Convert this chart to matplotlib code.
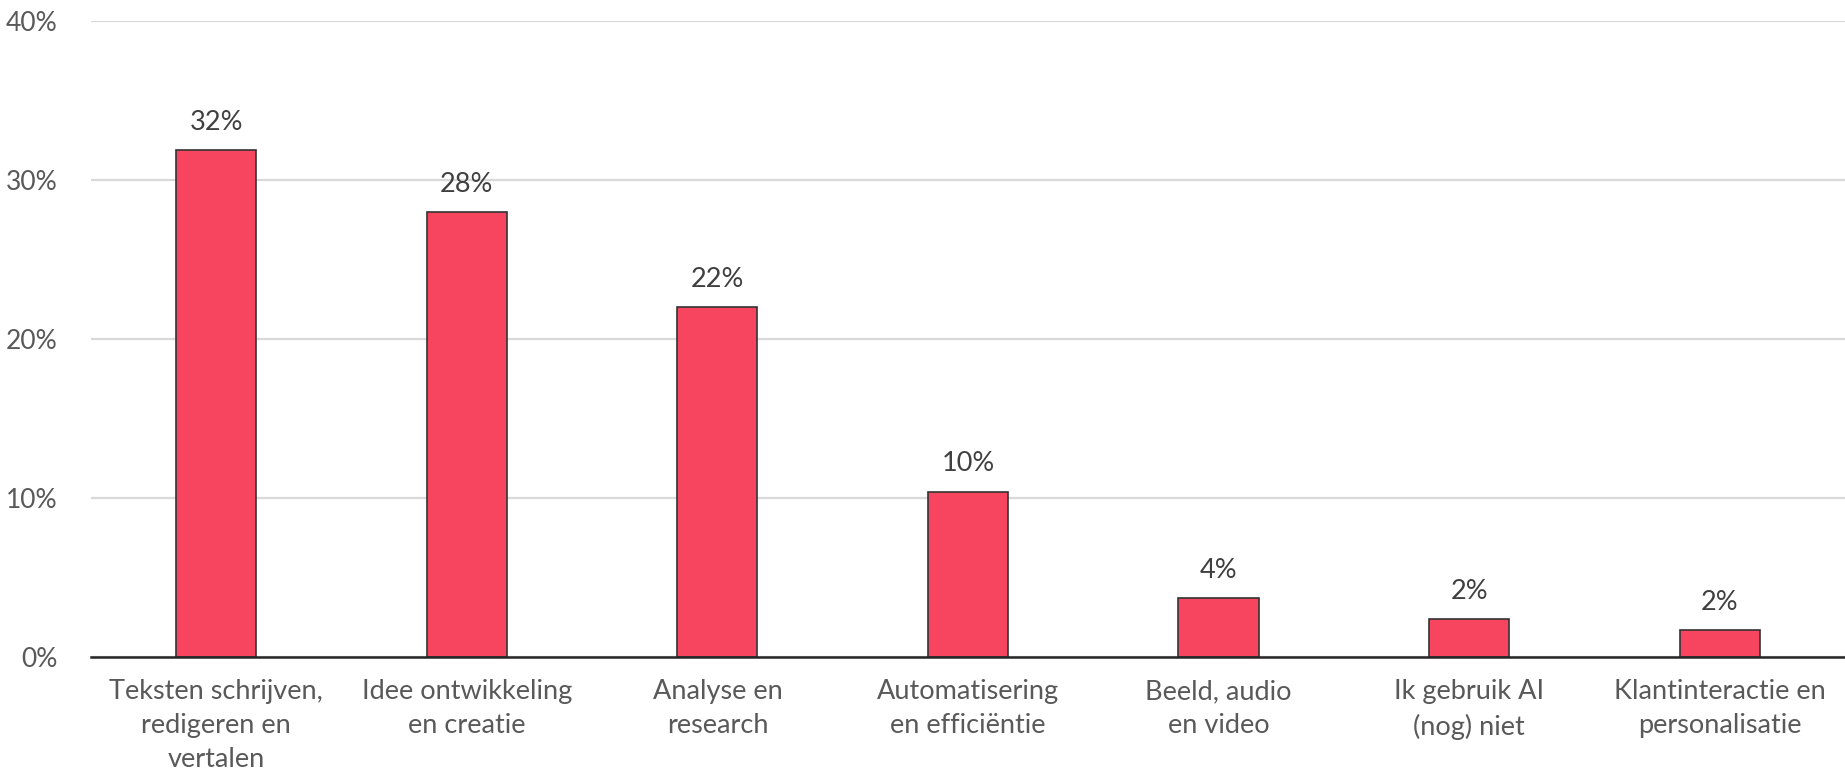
import matplotlib.pyplot as plt
from matplotlib.ticker import FuncFormatter

categories = ["Teksten schrijven,\nredigeren en\nvertalen", "Idee ontwikkeling\nen creatie",
              "Analyse en\nresearch", "Automatisering\nen efficiëntie", "Beeld, audio\nen video",
              "Ik gebruik AI\n(nog) niet", "Klantinteractie en\npersonalisatie"]
values = [31.9, 28.0, 22.0, 10.4, 3.7, 2.4, 1.7]
labels = ["32%", "28%", "22%", "10%", "4%", "2%", "2%"]
yticks = [0, 10, 20, 30, 40]

plt.rcParams['font.family'] = ['Lato', 'DejaVu Sans']
grey = '#595959'

fig = plt.figure(figsize=(18.45, 7.78), dpi=100)
ax = fig.add_axes([0.0493, 0.1555, 0.9507, 0.8175])

x = range(len(categories))
ax.bar(x, values, width=0.32, color='#F8455F', edgecolor='#333333', linewidth=1.2, zorder=3)

for xi, v, lab in zip(x, values, labels):
    ax.annotate(lab, (xi, v), xytext=(0, 11), textcoords='offset points',
                ha='center', va='bottom', fontsize=19.5, color='#404040')

ax.set_xlim(-0.5, 6.5)
ax.set_ylim(0, 40)
ax.set_yticks(yticks)
ax.yaxis.set_major_formatter(FuncFormatter(lambda v, p: f"{v:.0f}%"))
ax.set_xticks(list(x))
ax.set_xticklabels(categories, fontsize=19.5, color=grey, linespacing=1.45)
ax.tick_params(axis='y', labelsize=19, labelcolor=grey, length=0, pad=24)
ax.tick_params(axis='x', length=0, pad=16)
ax.grid(axis='y', color='#D9D9D9', linewidth=1.6, zorder=0)
for s in ['top', 'right', 'left']:
    ax.spines[s].set_visible(False)
ax.spines['bottom'].set_color('#262626')
ax.spines['bottom'].set_linewidth(1.8)
ax.spines['bottom'].set_zorder(4)

fig.savefig('out.png', dpi=100)
